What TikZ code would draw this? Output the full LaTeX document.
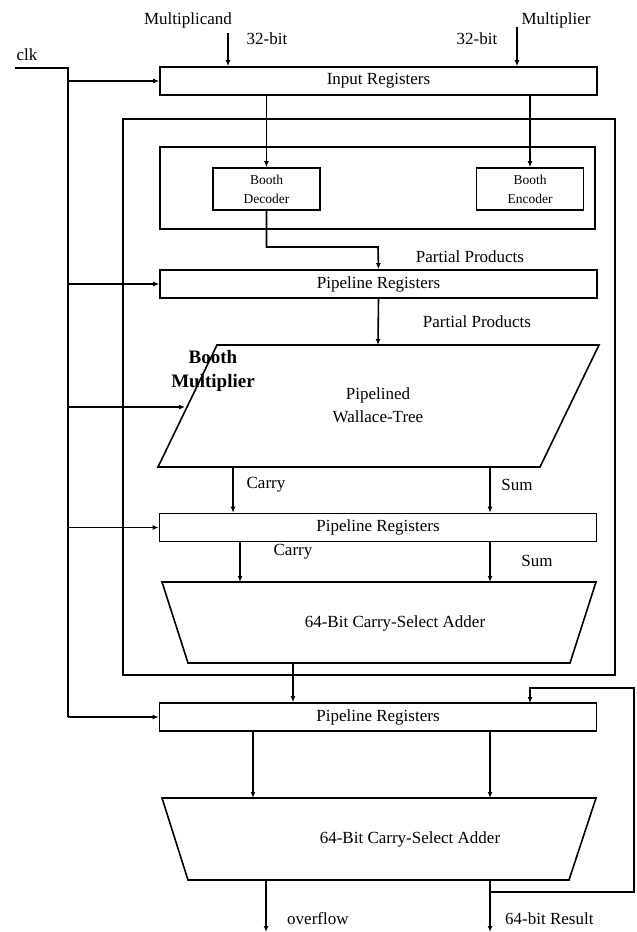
\documentclass[tikz,border=0pt]{standalone}
\usepackage{fontspec}
\setmainfont{Liberation Serif}
\usepackage{tikz}
\usetikzlibrary{arrows.meta,calc,positioning}

\newcommand{\lbfont}{\fontsize{17}{21}\selectfont}
\newcommand{\smfont}{\fontsize{13.5}{19}\selectfont}
\tikzset{
  every node/.style={font=\lbfont, inner sep=0pt},
  reg/.style={draw, line width=1.6pt, minimum width=437pt, minimum height=28pt},
  boothbox/.style={draw, line width=1.6pt, minimum width=107pt, minimum height=42pt, align=center, font=\smfont},
  sig/.style={line width=1.6pt, -{Latex[length=6pt,width=5pt]}},
  wire/.style={line width=1.6pt},
}

\begin{document}
\begin{tikzpicture}[x=1pt, y=-1pt]
    \useasboundingbox (0,0) rectangle (637,932);

    % inputs
    \node (mcand) at (188,20) {Multiplicand};
    \node (mplier) at (556,20) {Multiplier};
    \node (bitA) at (267,39) {32-bit};
    \node (bitB) at (477,39) {32-bit};
    \node (clk) at (27,55) {clk};
    \coordinate (mcin) at (228,33);
    \coordinate (mpin) at (517,27);

    % registers
    \node[reg] (inreg) at (378.5,81) {Input Registers};
    \node[reg] (pr1) at (378.5,284) {Pipeline Registers};
    \node[reg] (pr2) at (378,527.5) {Pipeline Registers};
    \node[reg] (pr3) at (378,717) {Pipeline Registers};

    % booth multiplier frame
    \draw[wire] (123,119) rectangle (615,675);
    \draw[wire] (160,147) rectangle (595,229);
    \node[boothbox] (dec) at (266.5,189) {Booth\\Decoder};
    \node[boothbox] (enc) at (530,189) {Booth\\Encoder};
    \node[align=center, font=\fontsize{19}{24}\selectfont\bfseries] (bm) at (213,371) {Booth\\Multiplier};

    % wallace tree
    \draw[wire] (217,345) -- (599,345) -- (540,467) -- (158,467) -- cycle;
    \node[align=center, font=\fontsize{17}{23}\selectfont] (wal) at (378,405) {Pipelined\\Wallace-Tree};
    \coordinate (wtop) at (378,345);
    \coordinate (wclk) at (185,407);
    \coordinate (wcar) at (233,467);
    \coordinate (wsum) at (490,467);

    % adders
    \draw[wire] (162,582) -- (596,582) -- (570,663) -- (188,663) -- cycle;
    \node (add1) at (395,623) {64-Bit Carry-Select Adder};
    \coordinate (a1car) at (240,582);
    \coordinate (a1sum) at (490,582);
    \coordinate (a1out) at (293,663);

    \draw[wire] (162,798) -- (596,798) -- (569,880) -- (188,880) -- cycle;
    \node (add2) at (410,839) {64-Bit Carry-Select Adder};
    \coordinate (a2l) at (253,798);
    \coordinate (a2r) at (490,798);
    \coordinate (ovf) at (266,880);
    \coordinate (res) at (490,880);
    \coordinate (ovfend) at (266,932);
    \coordinate (resend) at (490,932);
    \coordinate (fbk) at (490,892);
    \coordinate (fbtop) at (634,688);
    \coordinate (fbin) at (530,703);

    % labels
    \node (pp1) at (470,257) {Partial Products};
    \node (pp2) at (477,322) {Partial Products};
    \node (car1) at (266,485) {Carry};
    \node (sum1) at (517,485) {Sum};
    \node (car2) at (293,552) {Carry};
    \node (sum2) at (537,561) {Sum};
    \node[anchor=west] (ovft) at (287,919) {overflow};
    \node[anchor=west] (rest) at (505,919) {64-bit Result};

    % clock
    \coordinate (clkin) at (15,68);
    \coordinate (clkbus) at (68,68);
    \draw[wire] (clkin) -- (clkbus) -- (clkbus |- pr3.west);
    \draw[sig] (clkbus |- inreg.west) -- (inreg.west);
    \draw[sig] (clkbus |- pr1.west) -- (pr1.west);
    \draw[sig] (clkbus |- wclk) -- (wclk);
    \draw[sig] (clkbus |- pr2.west) -- (pr2.west);
    \draw[sig] (clkbus |- pr3.west) -- (pr3.west);

    % data path
    \draw[sig] (mcin) -- (mcin |- inreg.north);
    \draw[sig] (mpin) -- (mpin |- inreg.north);
    \draw[sig] (inreg.south -| dec.north) -- (dec.north);
    \draw[sig] (inreg.south -| enc.north) -- (enc.north);
    \draw[sig] (dec.south) |- (378,247) -- (pr1.north);
    \draw[sig] (pr1.south) -- (wtop);
    \draw[sig] (wcar) -- (wcar |- pr2.north);
    \draw[sig] (wsum) -- (wsum |- pr2.north);
    \draw[sig] (pr2.south -| a1car) -- (a1car);
    \draw[sig] (pr2.south -| a1sum) -- (a1sum);
    \draw[sig] (a1out) -- (a1out |- pr3.north);
    \draw[sig] (pr3.south -| a2l) -- (a2l);
    \draw[sig] (pr3.south -| a2r) -- (a2r);
    \draw[sig] (ovf) -- (ovfend);
    \draw[sig] (res) -- (resend);
    \draw[sig] (fbk) -| (fbtop) -| (fbin);
\end{tikzpicture}
\end{document}
